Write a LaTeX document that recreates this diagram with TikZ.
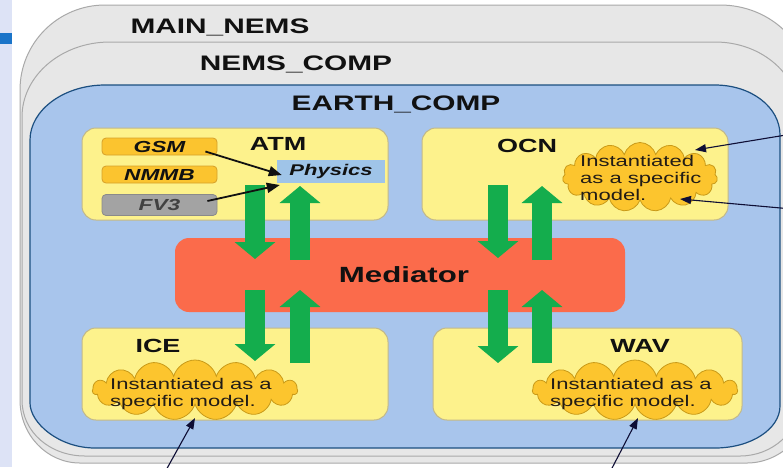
\documentclass[tikz,border=0pt]{standalone}
\usepackage{fontspec}
\setmainfont{Liberation Sans}[FakeStretch=1.42]
\usetikzlibrary{shapes.symbols,arrows.meta,calc}
\definecolor{strip}{HTML}{DDE3F6}
\definecolor{stripbar}{HTML}{1A74C9}
\definecolor{layerfill}{HTML}{E7E7E7}
\definecolor{layerline}{HTML}{A9A9A9}
\definecolor{earthfill}{HTML}{A8C5EC}
\definecolor{earthline}{HTML}{1C4F80}
\definecolor{compfill}{HTML}{FDF28C}
\definecolor{compline}{HTML}{C2B98A}
\definecolor{medfill}{HTML}{FB6B4B}
\definecolor{grn}{HTML}{14AD4D}
\definecolor{dyn}{HTML}{FBC42F}
\definecolor{dynline}{HTML}{D6A02A}
\definecolor{fvfill}{HTML}{A3A3A3}
\definecolor{fvline}{HTML}{8A8A8A}
\definecolor{physfill}{HTML}{9FC4E8}
\definecolor{cloudfill}{HTML}{FCC52E}
\definecolor{cloudline}{HTML}{C99A18}
\definecolor{txt}{HTML}{111111}
\tikzset{
  title/.style={anchor=base, inner sep=0, text=txt, font=\fontsize{21}{24}\selectfont\bfseries},
  complabel/.style={anchor=base, inner sep=0, text=txt, font=\fontsize{19}{22}\selectfont\bfseries},
  compbox/.style={draw=compline, fill=compfill, line width=1pt, rounded corners=14pt},
  dynbox/.style={draw=dynline, fill=dyn, line width=0.8pt, rounded corners=4pt, inner sep=0,
     minimum width=115pt, font=\fontsize{16}{18}\selectfont\bfseries\itshape, text=txt},
  garrow/.style={draw=grn, line width=20pt, -{Triangle[length=17pt,width=40pt]}},
  barrow/.style={draw=txt, line width=1.8pt, -{Triangle[length=13pt,width=10pt]}},
  carrow/.style={draw=txt!85!blue, line width=1.1pt, -{Triangle[length=11pt,width=8pt]}},
  cloudshape/.style={cloud, cloud puffs=15, cloud ignores aspect, draw=cloudline, fill=cloudfill,
     line width=0.8pt, inner sep=0},
  cloudtext/.style={anchor=west, inner sep=0, align=left, text=txt!90!brown,
     font=\fontsize{15.5}{17}\selectfont},
}
\begin{document}
\begin{tikzpicture}[x=1pt,y=-1pt]
\useasboundingbox (0,0) rectangle (783,467);
\clip (0,0) rectangle (783,467);
\fill[white] (0,0) rectangle (783,467);
% left strip
\fill[strip] (0,0) rectangle (12,467);
\fill[stripbar] (0,33) rectangle (12,44);
% MAIN_NEMS layer
\draw[layerline, fill=layerfill, line width=1pt]
  (20,90) .. controls (20,43) and (58,5) .. (105,5) -- (720,5)
  .. controls (770,5) and (810,43) .. (810,90) -- (810,400)
  .. controls (810,435) and (780,463) .. (747,463) -- (80,463)
  .. controls (47,463) and (20,435) .. (20,400) -- cycle;
% NEMS_COMP layer
\draw[layerline, fill=layerfill, line width=1pt]
  (22,117) .. controls (22,76) and (61,42) .. (110,42) -- (715,42)
  .. controls (763,42) and (800,76) .. (800,117) -- (800,400)
  .. controls (800,432) and (772,456) .. (740,456) -- (85,456)
  .. controls (50,456) and (22,432) .. (22,400) -- cycle;
% EARTH_COMP layer
\draw[earthline, fill=earthfill, line width=1.2pt]
  (30,140) .. controls (30,110) and (64,85) .. (105,85) -- (715,85)
  .. controls (751,85) and (780,107) .. (780,135) -- (780,406)
  .. controls (780,429) and (751,448) .. (715,448) -- (95,448)
  .. controls (59,448) and (30,423) .. (30,403) -- cycle;
\node[title] (mainnems) at (220,33) {MAIN\_NEMS};
\node[title] (nemscomp) at (296,70) {NEMS\_COMP};
\node[title] (earthcomp) at (396,110) {EARTH\_COMP};
% component boxes
\node[compbox, minimum width=306pt, minimum height=92pt] (atm) at (235,174) {};
\node[compbox, minimum width=306pt, minimum height=92pt] (ocn) at (575,174) {};
\node[compbox, minimum width=306pt, minimum height=92pt] (ice) at (235,374) {};
\node[compbox, minimum width=309pt, minimum height=92pt] (wav) at (587.5,374) {};
% mediator
\node[fill=medfill, rounded corners=14pt, minimum width=450pt, minimum height=74pt] (med) at (400,275) {};
\node[anchor=base, inner sep=0, text=txt, font=\fontsize{22}{24}\selectfont\bfseries] (medlabel) at (404,282) {Mediator};
% green exchange arrows
\coordinate (g1a) at (255,185); \coordinate (g1b) at (255,259);
\coordinate (g2a) at (300,260); \coordinate (g2b) at (300,186);
\coordinate (g3a) at (498,185); \coordinate (g3b) at (498,258);
\coordinate (g4a) at (542,260); \coordinate (g4b) at (542,186);
\coordinate (g5a) at (255,290); \coordinate (g5b) at (255,361);
\coordinate (g6a) at (300,363); \coordinate (g6b) at (300,290);
\coordinate (g7a) at (498,290); \coordinate (g7b) at (498,363);
\coordinate (g8a) at (542,363); \coordinate (g8b) at (542,290);
\foreach \a/\b in {g1a/g1b,g2a/g2b,g3a/g3b,g4a/g4b,g5a/g5b,g6a/g6b,g7a/g7b,g8a/g8b}
  \draw[garrow] (\a) -- (\b);
% component labels
\node[complabel] (atmlabel) at (278,150) {ATM};
\node[complabel] (ocnlabel) at (527,152) {OCN};
\node[complabel] (icelabel) at (158,352) {ICE};
\node[complabel] (wavlabel) at (640,352) {WAV};
% ATM internals
\node[dynbox, minimum height=17pt] (gsm) at (159.5,146.5) {GSM};
\node[dynbox, minimum height=17pt] (nmmb) at (159.5,174.5) {NMMB};
\node[dynbox, draw=fvline, fill=fvfill, minimum height=21pt, text=txt!80] (fv3) at (159.5,205) {FV3};
\node[fill=physfill, inner sep=0, minimum width=108pt, minimum height=23pt,
      font=\fontsize{15.5}{18}\selectfont\bfseries\itshape, text=txt] (phys) at (331,171.5) {Physics};
\draw[barrow] ($(gsm.east)+(-12,5)$) -- ($(phys.west)+(5,3.5)$);
\draw[barrow] ($(fv3.east)+(-10,-4)$) -- ($(phys.west)+(3,13.5)$);
% clouds
\node[cloudshape, minimum width=155pt, minimum height=69pt] (ocncloud) at (640,177) {};
\node[cloudtext] (ocntext) at (580,177.5) {Instantiated\\as a specific\\model.};
\node[cloudshape, minimum width=205pt, minimum height=60pt] (icecloud) at (195,390) {};
\node[cloudtext] (icetext) at (110,394) {Instantiated as a\\specific model.};
\node[cloudshape, minimum width=205pt, minimum height=60pt] (wavcloud) at (635,390) {};
\node[cloudtext] (wavtext) at (550,394) {Instantiated as a\\specific model.};
% pointer arrows from outside
\coordinate (p1) at (792,134);
\coordinate (p2) at (792,209);
\coordinate (p3) at (165,472);
\coordinate (p4) at (610,472);
\draw[carrow] (p1) -- ($(ocncloud.center)+(55,-27)$);
\draw[carrow] (p2) -- ($(ocncloud.center)+(40,22)$);
\draw[carrow] (p3) -- ($(icecloud.center)+(0,28)$);
\draw[carrow] (p4) -- ($(wavcloud.center)+(3,28)$);
\end{tikzpicture}
\end{document}
